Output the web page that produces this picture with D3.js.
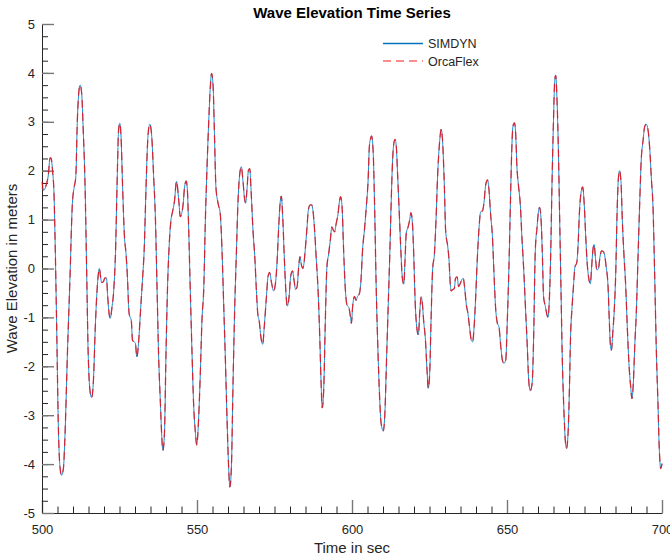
<!DOCTYPE html>
<html>
<head>
<meta charset="utf-8">
<script src="https://d3js.org/d3.v7.min.js"></script>
<style>
  body { margin: 0; background: #fff; }
  svg { display: block; font-family: 'Liberation Sans', Arial, sans-serif; }
</style>
</head>
<body>
<div id="chart"></div>
<script>
// Time samples (sec)
const time = [
  500, 500.5, 501.5, 502, 502.6, 502.9, 503.4, 503.9, 504.2, 504.7, 505.3, 505.8, 506.3, 506.9, 507.4, 508.2, 509, 509.8,
  510.4, 510.9, 511.4, 512, 512.3, 512.8, 513.3, 513.9, 514.4, 514.9, 515.6, 516, 516.6, 517.2, 517.7, 518.2, 518.5, 518.9,
  519.2, 519.8, 520.3, 520.8, 521.2, 521.7, 522, 522.6, 523.1, 523.7, 524.3, 524.7, 525.1, 525.5, 526, 526.6, 527.1, 527.5,
  528.1, 528.4, 528.8, 529.2, 529.7, 530.1, 530.6, 531.2, 531.8, 532.4, 533, 533.5, 534.1, 534.5, 534.8, 535.4, 536, 536.6,
  537.1, 537.6, 538.2, 538.7, 539, 539.5, 540, 540.5, 541, 541.6, 542.1, 542.7, 543.4, 544.1, 544.6, 544.9, 545.5, 546,
  546.5, 546.9, 547.3, 547.8, 548.4, 548.9, 549.5, 549.9, 550.5, 551.1, 551.6, 552.2, 552.7, 553.2, 553.8, 554.3, 554.7,
  555.2, 555.6, 556.1, 556.8, 557.5, 558.1, 558.6, 559.1, 559.7, 560.2, 560.6, 561.1, 561.6, 562.2, 562.7, 563.2, 563.8,
  564.3, 564.8, 565.4, 565.7, 566.1, 566.6, 567, 567.5, 568, 568.7, 569.1, 569.6, 570.1, 570.6, 571.2, 571.7, 572.4, 572.9,
  573.4, 574.1, 574.7, 575.3, 575.8, 576.3, 576.9, 577.2, 577.6, 578.2, 578.7, 579.1, 579.7, 580.2, 580.8, 581.3, 581.8,
  582.3, 582.8, 583.2, 583.7, 584.1, 584.5, 584.9, 585.5, 585.9, 586.5, 587, 587.4, 588, 588.5, 589, 589.6, 590, 590.4,
  590.9, 591.4, 591.9, 592.5, 593, 593.5, 594, 594.4, 594.9, 595.5, 596, 596.3, 596.8, 597.3, 597.8, 598.4, 599, 599.5,
  599.8, 600.2, 600.8, 601.3, 601.8, 602.4, 602.9, 603.4, 604.1, 604.7, 605.2, 605.6, 606, 606.3, 606.8, 607.3, 607.8,
  608.4, 608.9, 609.4, 610.1, 610.6, 611.2, 611.7, 612.2, 612.6, 613.1, 613.5, 613.9, 614.3, 614.7, 615.3, 615.8, 616.2,
  616.7, 617.1, 617.5, 618.1, 618.6, 619, 619.5, 619.9, 620.4, 621, 621.4, 621.9, 622.3, 622.7, 623.1, 623.7, 624.2, 624.6,
  625.1, 625.5, 626, 626.6, 627.1, 627.6, 628.3, 628.8, 629.2, 629.8, 630.2, 630.9, 631.3, 631.7, 632, 632.5, 633, 633.4,
  633.9, 634.4, 634.9, 635.5, 635.9, 636.3, 636.9, 637.4, 637.9, 638.5, 638.9, 639.4, 639.9, 640.4, 641, 641.5, 642.1,
  642.6, 643.1, 643.7, 644.2, 644.7, 645.3, 645.8, 646.3, 646.9, 647.4, 648, 648.5, 649, 649.6, 650.1, 650.6, 651.1, 651.5,
  651.9, 652.4, 652.8, 653.2, 653.7, 654.3, 654.8, 655.4, 655.9, 656.5, 657, 657.5, 658.1, 658.6, 659.1, 659.7, 660.2,
  660.5, 661, 661.4, 661.8, 662.4, 662.9, 663.2, 663.7, 664.1, 664.5, 665, 665.4, 665.7, 666.1, 666.6, 667, 667.4, 667.8,
  668.4, 668.8, 669.2, 669.7, 670.1, 670.5, 671, 671.5, 671.9, 672.5, 672.9, 673.4, 674, 674.4, 674.9, 675.4, 675.8, 676.3,
  676.9, 677.3, 677.7, 678.1, 678.5, 679, 679.5, 680, 680.5, 681, 681.5, 682, 682.6, 683, 683.4, 683.7, 684.1, 684.6,
  685.1, 685.5, 685.9, 686.3, 686.8, 687.2, 687.7, 688.3, 688.8, 689.4, 689.9, 690.3, 690.8, 691.2, 691.7, 692.3, 692.8,
  693.3, 693.9, 694.4, 694.9, 695.5, 696, 696.6, 697.1, 697.6, 698.2, 698.7, 699.1, 699.6, 700
]

// Wave elevation (m), SIMDYN
const simdyn = [
  1.65, 1.6, 1.74, 1.89, 2.26, 2.26, 2.0, 1.47, 0.65, -1.06, -3.3, -4.06, -4.23, -4.09, -3.44, -1.74, -0.24, 1.33,
  1.67, 1.87, 3.03, 3.68, 3.75, 3.58, 2.83, 1.67, -0.03, -1.74, -2.56, -2.64, -2.28, -1.19, -0.51, -0.1, 0.0, -0.17,
  -0.29, -0.27, -0.19, -0.2, -0.58, -0.95, -1.02, -0.78, -0.48, 0.31, 1.94, 2.83, 2.97, 2.69, 1.67, 0.65, 0.31, -0.1,
  -0.92, -0.99, -1.06, -1.47, -1.5, -1.52, -1.81, -1.47, -0.85, -0.24, 0.44, 1.53, 2.62, 2.9, 2.95, 2.7, 1.9, 0.99,
  -0.37, -1.74, -2.76, -3.51, -3.72, -3.37, -1.74, -0.37, 0.44, 0.99, 1.16, 1.36, 1.78, 1.4, 1.06, 1.09, 1.3, 1.67,
  1.79, 1.6, 0.85, -0.37, -1.74, -2.76, -3.37, -3.61, -3.1, -2.08, -1.06, -0.37, 0.99, 2.01, 3.03, 3.72, 3.99,
  3.72, 2.83, 1.67, 1.33, 1.12, 0.31, -0.72, -1.74, -3.1, -4.06, -4.47, -4.06, -2.42, -0.72, 0.31, 1.33, 1.94,
  2.08, 1.81, 1.4, 1.34, 1.6, 2.01, 2.04, 1.53, 0.85, 0.17, -0.37, -0.92, -1.09, -1.4, -1.55, -1.19, -0.58, -0.17,
  -0.08, -0.31, -0.46, -0.31, 0.1, 0.78, 1.4, 1.48, 1.12, 0.17, -0.51, -0.77, -0.58, -0.17, -0.05, -0.24, -0.43,
  -0.37, 0.03, 0.24, 0.07, 0, 0.1, 0.37, 0.85, 1.19, 1.3, 1.3, 1.19, 0.72, 0.17, -0.37, -1.4, -2.28, -2.85,
  -2.42, -1.06, 0.03, 0.31, 0.58, 0.85, 0.78, 0.75, 0.92, 1.12, 1.4, 1.47, 1.26, 0.37, -0.37, -0.75, -0.8, -0.99,
  -1.12, -0.78, -0.57, -0.65, -0.57, -0.51, -0.24, 0.37, 0.85, 1.33, 1.81, 2.49, 2.66, 2.71, 2.42, 1.26, -0.37,
  -1.74, -2.62, -3.17, -3.32, -2.97, -1.74, -0.72, 0.31, 1.26, 2.22, 2.56, 2.64, 2.49, 1.94, 1.06, 0.31, -0.17,
  -0.32, 0.17, 0.72, 0.85, 0.99, 1.14, 0.92, 0.31, -0.72, -1.26, -1.36, -0.85, -0.58, -0.72, -1.06, -1.47, -2.08, -2.45,
  -2.08, -1.06, -0.03, 0.31, 0.99, 1.87, 2.62, 2.85, 2.62, 1.67, 0.78, 0.44, 0.17, -0.31, -0.46, -0.43, -0.41, -0.2,
  -0.17, -0.37, -0.31, -0.22, -0.2, -0.37, -0.75, -0.92, -1.19, -1.47, -1.5, -1.19, -0.58, 0.17, 0.85, 1.16, 1.18,
  1.36, 1.7, 1.81, 1.6, 1.12, 0.65, -0.1, -0.78, -1.12, -1.19, -1.6, -1.87, -1.94, -1.87, -1.06, -0.03, 1.33, 2.35,
  2.9, 2.98, 2.76, 2.08, 1.7, 1.3, 0.65, -0.03, -0.72, -1.53, -2.28, -2.5, -2.35, -1.4, 0.31, 0.85, 1.19,
  1.25, 0.99, 0.31, -0.58, -0.78, -0.95, -1.0, -0.58, 0.31, 1.67, 3.03, 3.85, 3.95, 3.51, 2.35, 0.99, -0.37, -1.74,
  -2.97, -3.51, -3.68, -3.37, -2.56, -1.4, -0.78, -0.31, 0.03, 0.12, 0.44, 1.19, 1.6, 1.67, 1.33, 0.65, 0.17, -0.17,
  -0.31, 0.03, 0.37, 0.49, 0.24, -0.03, 0, 0.24, 0.36, 0.35, 0.27, 0.03, -0.37, -1.06, -1.6, -1.67, -1.33, -0.85,
  -0.03, 1.12, 1.81, 2.0, 1.74, 0.99, 0.31, -0.37, -1.19, -2.01, -2.42, -2.66, -2.28, -1.6, -0.92, 0.31, 1.33,
  2.22, 2.62, 2.9, 2.95, 2.83, 2.49, 1.81, 1.26, -0.03, -1.74, -2.76, -3.65, -4.09, -3.99
]

// OrcaFlex follows SIMDYN almost exactly; only the first sample differs visibly
const orcaflex = [1.77].concat(simdyn.slice(1))

const xTicks = [500, 550, 600, 650, 700]
const yTicks = [-5, -4, -3, -2, -1, 0, 1, 2, 3, 4, 5]
const seriesNames = ['SIMDYN', 'OrcaFlex']

const width = 670, height = 556
const margin = { top: 24, right: 8, bottom: 43, left: 42 }

const svg = d3.select('#chart').append('svg')
  .attr('width', width)
  .attr('height', height)

const x = d3.scaleLinear().domain([500, 700]).range([margin.left, width - margin.right])
const y = d3.scaleLinear().domain([-5, 5]).range([height - margin.bottom, margin.top])

const axisColor = '#262626'

// minor ticks first (5 s / 0.25 m), then the major ones
const xMinor = d3.range(500, 701, 5)
const yMinor = d3.range(-5, 5.01, 0.25)

svg.append('g')
  .attr('transform', `translate(0,${y(-5)})`)
  .call(d3.axisBottom(x).tickValues(xMinor).tickSize(-6.5).tickFormat(''))
  .call((g) => g.select('.domain').remove())
  .call((g) => g.selectAll('line').attr('stroke', axisColor))

svg.append('g')
  .attr('transform', `translate(${x(500)},0)`)
  .call(d3.axisLeft(y).tickValues(yMinor).tickSize(-6).tickFormat(''))
  .call((g) => g.select('.domain').remove())
  .call((g) => g.selectAll('line').attr('stroke', axisColor))

const xAxis = svg.append('g')
  .attr('transform', `translate(0,${y(-5)})`)
  .call(d3.axisBottom(x).tickValues(xTicks).tickSize(-13).tickSizeOuter(0).tickPadding(12).tickFormat((d) => String(d)))
xAxis.select('.domain').attr('stroke', axisColor)
xAxis.selectAll('line').attr('stroke', '#777').attr('stroke-width', 1.4)
xAxis.selectAll('text').attr('fill', axisColor).style('font-size', '13px')

const yAxis = svg.append('g')
  .attr('transform', `translate(${x(500)},0)`)
  .call(d3.axisLeft(y).tickValues(yTicks).tickSize(-12).tickSizeOuter(0).tickPadding(7).tickFormat((d) => String(d)))
yAxis.select('.domain').attr('stroke', axisColor)
yAxis.selectAll('line').attr('stroke', '#777').attr('stroke-width', 1.4)
yAxis.selectAll('text').attr('fill', axisColor).style('font-size', '13px')

// lines
const line = d3.line()
  .x((d) => x(d[0]))
  .y((d) => y(d[1]))
  .curve(d3.curveMonotoneX)

svg.append('path')
  .datum(time.map((t, i) => [t, simdyn[i]]))
  .attr('fill', 'none')
  .attr('stroke', '#1f8ad0')
  .attr('stroke-width', 1)
  .attr('d', line)

svg.append('path')
  .datum(time.map((t, i) => [t, orcaflex[i]]))
  .attr('fill', 'none')
  .attr('stroke', '#FF0000')
  .attr('stroke-opacity', 0.75)
  .attr('stroke-width', 1.3)
  .attr('stroke-dasharray', '8,5')
  .attr('d', line)

// title and axis labels
svg.append('text')
  .attr('x', (x(500) + x(700)) / 2)
  .attr('y', 18)
  .attr('text-anchor', 'middle')
  .style('font-size', '15px')
  .style('font-weight', 'bold')
  .text('Wave Elevation Time Series')

svg.append('text')
  .attr('x', (x(500) + x(700)) / 2)
  .attr('y', 553)
  .attr('text-anchor', 'middle')
  .attr('fill', axisColor)
  .style('font-size', '15px')
  .text('Time in sec')

svg.append('text')
  .attr('transform', `translate(17,${y(0)}) rotate(-90)`)
  .attr('text-anchor', 'middle')
  .attr('fill', axisColor)
  .style('font-size', '15px')
  .text('Wave Elevation in meters')

// legend
const legend = svg.append('g').attr('transform', 'translate(383,43.5)')
const legendStyles = [
  { stroke: '#0072BD', opacity: 1, dash: null },
  { stroke: '#FF0000', opacity: 0.6, dash: '8,5' },
]
seriesNames.forEach((name, i) => {
  const row = legend.append('g').attr('transform', `translate(0,${i * 17.5})`)
  row.append('line')
    .attr('x1', 0).attr('x2', 40)
    .attr('stroke', legendStyles[i].stroke)
    .attr('stroke-opacity', legendStyles[i].opacity)
    .attr('stroke-width', 1.3)
    .attr('stroke-dasharray', legendStyles[i].dash)
  row.append('text')
    .attr('x', 45)
    .attr('y', 4.5)
    .attr('fill', axisColor)
    .style('font-size', '12.5px')
    .text(name)
})
</script>
</body>
</html>
